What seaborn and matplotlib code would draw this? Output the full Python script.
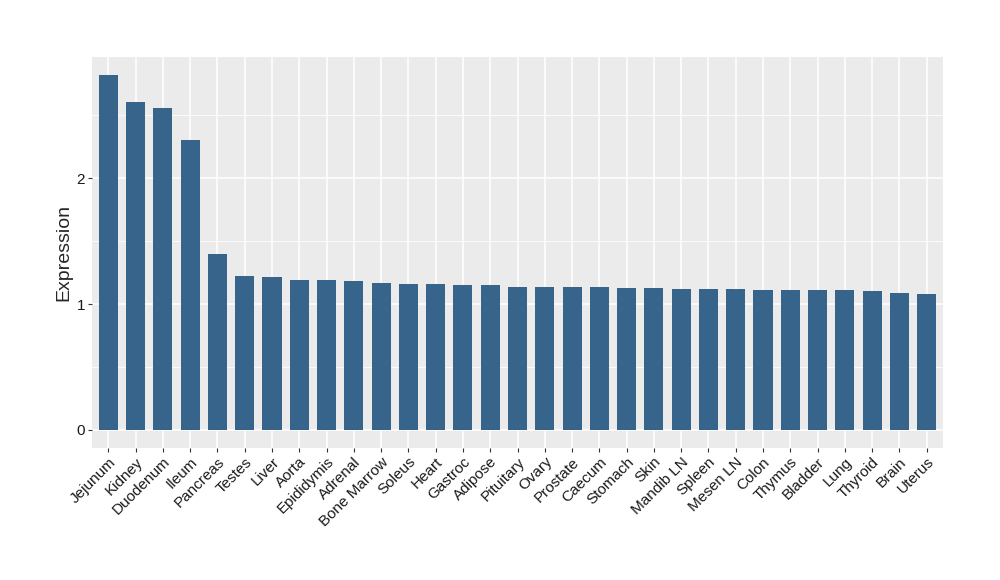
import matplotlib
matplotlib.use("Agg")
import matplotlib.pyplot as plt
import numpy as np
import pandas as pd
import seaborn as sns

tissues = ["Jejunum", "Kidney", "Duodenum", "Ileum", "Pancreas", "Testes", "Liver",
           "Aorta", "Epididymis", "Adrenal", "Bone Marrow", "Soleus", "Heart", "Gastroc",
           "Adipose", "Pituitary", "Ovary", "Prostate", "Caecum", "Stomach", "Skin",
           "Mandib LN", "Spleen", "Mesen LN", "Colon", "Thymus", "Bladder", "Lung",
           "Thyroid", "Brain", "Uterus"]
expression = [2.825, 2.611, 2.563, 2.302, 1.397, 1.222, 1.214,
              1.190, 1.190, 1.183, 1.167, 1.159, 1.159, 1.151,
              1.151, 1.135, 1.135, 1.135, 1.135, 1.127, 1.127,
              1.119, 1.119, 1.119, 1.111, 1.111, 1.111, 1.111,
              1.103, 1.087, 1.079]

df = pd.DataFrame({"tissue": tissues, "expression": expression})

sns.set_style("darkgrid", {"axes.facecolor": "#EBEBEB", "grid.color": "white",
                           "xtick.bottom": True, "ytick.left": True})
plt.rcParams["font.family"] = ["Liberation Sans", "DejaVu Sans"]

fig = plt.figure(figsize=(10, 5.8), dpi=100)
ax = fig.add_axes([0.092, 0.228, 0.851, 0.674])

sns.barplot(data=df, x="tissue", y="expression", color="#36648B", saturation=1,
            width=0.7, linewidth=0, edgecolor="none", ax=ax)

n = len(tissues)
ax.set_xlim(-0.6, n - 0.4)
ymax = max(expression)
ax.set_ylim(-0.05 * ymax, 1.05 * ymax)
ax.set_yticks([0, 1, 2])
ax.set_yticks([0.5, 1.5, 2.5], minor=True)
ax.grid(True, which="major", color="white", linewidth=1.1)
ax.grid(True, which="minor", axis="y", color="white", linewidth=0.55)
ax.set_axisbelow(True)
for s in ax.spines.values():
    s.set_visible(False)

ax.tick_params(axis="both", which="major", length=3, width=0.8, color="#333333",
               labelsize=11, labelcolor="#1a1a1a", pad=2)
ax.tick_params(axis="both", which="minor", length=0)
plt.setp(ax.get_xticklabels(), rotation=45, ha="right", va="top",
         rotation_mode="anchor")

ax.set_xlabel("")
ax.set_ylabel("Expression", fontsize=14, labelpad=3)

fig.savefig("out.png", dpi=100)
